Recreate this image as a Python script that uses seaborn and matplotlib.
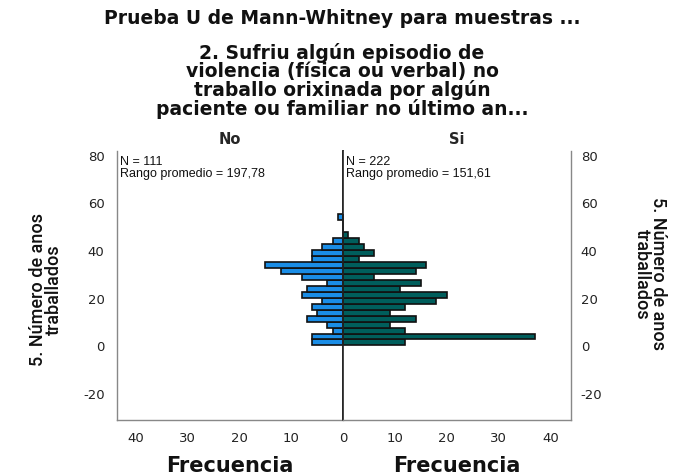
import numpy as np
import pandas as pd
import matplotlib
matplotlib.use("Agg")
import matplotlib.pyplot as plt
import seaborn as sns

# ---- data ----
bin_width = 2.5
bin_edges = [i * bin_width for i in range(23)]          # 0 .. 55
# counts per bin, bottom (0) to top
no_counts = [6, 6, 2, 3, 7, 5, 6, 4, 8, 7, 3, 8, 12, 15, 6, 6, 4, 2, 0, 0, 0, 1]
si_counts = [12, 37, 12, 9, 14, 9, 12, 18, 20, 11, 15, 6, 14, 16, 3, 6, 4, 3, 1, 0, 0, 0]
groups = ["No", "Si"]
n_values = ["111", "222"]
rank_means = ["197,78", "151,61"]
y_ticks = [-20, 0, 20, 40, 60, 80]
x_ticks = [0, 10, 20, 30, 40]

title = "Prueba U de Mann-Whitney para muestras ..."
subtitle = ("2. Sufriu algún episodio de\nviolencia (física ou verbal) no\n"
            "traballo orixinada por algún\npaciente ou familiar no último an...")
ylabel = "5. Número de anos\ntraballados"
xlabel = "Frecuencia"

colors = ["#1a8de6", "#005e5c"]

sns.set_theme(style="white")
plt.rcParams["font.family"] = ["Liberation Sans", "DejaVu Sans"]
WIDE = ["DejaVu Sans"]

fig = plt.figure(figsize=(6.81, 4.77), dpi=100)
W, H = 681, 477
def box(x0, x1, y0, y1):
    return [x0 / W, 1 - y1 / H, (x1 - x0) / W, (y1 - y0) / H]

axL = fig.add_axes(box(117, 343, 152, 421))
axR = fig.add_axes(box(343, 571, 152, 421))

centers = [(bin_edges[i] + bin_edges[i + 1]) / 2 for i in range(len(no_counts))]
df = pd.DataFrame({"center": centers, "No": no_counts, "Si": si_counts})

for ax, g, col in [(axL, "No", colors[0]), (axR, "Si", colors[1])]:
    sns.histplot(data=df, y="center", weights=g, bins=bin_edges, ax=ax,
                 color=col, edgecolor="#111111", linewidth=1.2, alpha=1)
    ax.set_ylim(-31.3, 81.6)
    ax.set_xticks(x_ticks)
    labels = [str(t) for t in x_ticks]
    if ax is axR:
        labels[0] = ""   # shared zero label drawn once by the left panel
    ax.set_xticklabels(labels, fontsize=9.5, color="#222222", family=WIDE)
    ax.set_ylabel("")
    ax.set_xlabel(xlabel, fontsize=15, fontweight="bold", labelpad=8,
                  color="#111111", family=WIDE)
    ax.tick_params(length=0, pad=8)
    ax.spines["top"].set_visible(False)
    for s in ["left", "right", "bottom"]:
        ax.spines[s].set_color("#888888")
        ax.spines[s].set_linewidth(1.0)
    ax.grid(False)

axL.set_xlim(43.7, 0)
axR.set_xlim(0, 43.9)
axL.spines["right"].set_color("#222222")
axL.spines["right"].set_linewidth(1.2)
axR.spines["left"].set_color("#222222")
axR.spines["left"].set_linewidth(1.2)

axL.set_yticks(y_ticks)
axL.set_yticklabels([str(t) for t in y_ticks], fontsize=9.5, color="#222222",
                    family=WIDE)
axR.set_yticks(y_ticks)
axR.yaxis.tick_right()
axR.set_yticklabels([str(t) for t in y_ticks], fontsize=9.5, color="#222222",
                    family=WIDE)
axR.tick_params(axis="y", length=0, pad=7)
axL.tick_params(axis="y", length=0, pad=9)

axL.set_title(groups[0], fontsize=10.5, fontweight="bold", pad=6, family=WIDE)
axR.set_title(groups[1], fontsize=10.5, fontweight="bold", pad=6, family=WIDE)

for ax, n, r in [(axL, n_values[0], rank_means[0]), (axR, n_values[1], rank_means[1])]:
    ax.text(0.012 if ax is axL else 0.015, 0.985, f"N = {n}\nRango promedio = {r}",
            transform=ax.transAxes, ha="left", va="top", fontsize=9,
            linespacing=1.05, color="#111111")

fig.text(46 / W, 1 - 290 / H, ylabel, rotation=90, ha="center", va="center",
         fontsize=13, family=["Roboto", "DejaVu Sans"], fontweight="medium",
         linespacing=0.9, color="#111111")
fig.text(650 / W, 1 - 274 / H, ylabel, rotation=270, ha="center", va="center",
         fontsize=13, family=["Roboto", "DejaVu Sans"], fontweight="medium",
         linespacing=0.9, color="#111111")

fig.text(342 / W, 1 - 18 / H, title, ha="center", va="center",
         fontsize=13.5, fontweight="bold", color="#111111", family=WIDE)
fig.text(342 / W, 1 - 81 / H, subtitle, ha="center", va="center",
         fontsize=13.5, fontweight="bold", linespacing=0.92, color="#111111",
         family=WIDE)

fig.savefig("out.png", dpi=100)
